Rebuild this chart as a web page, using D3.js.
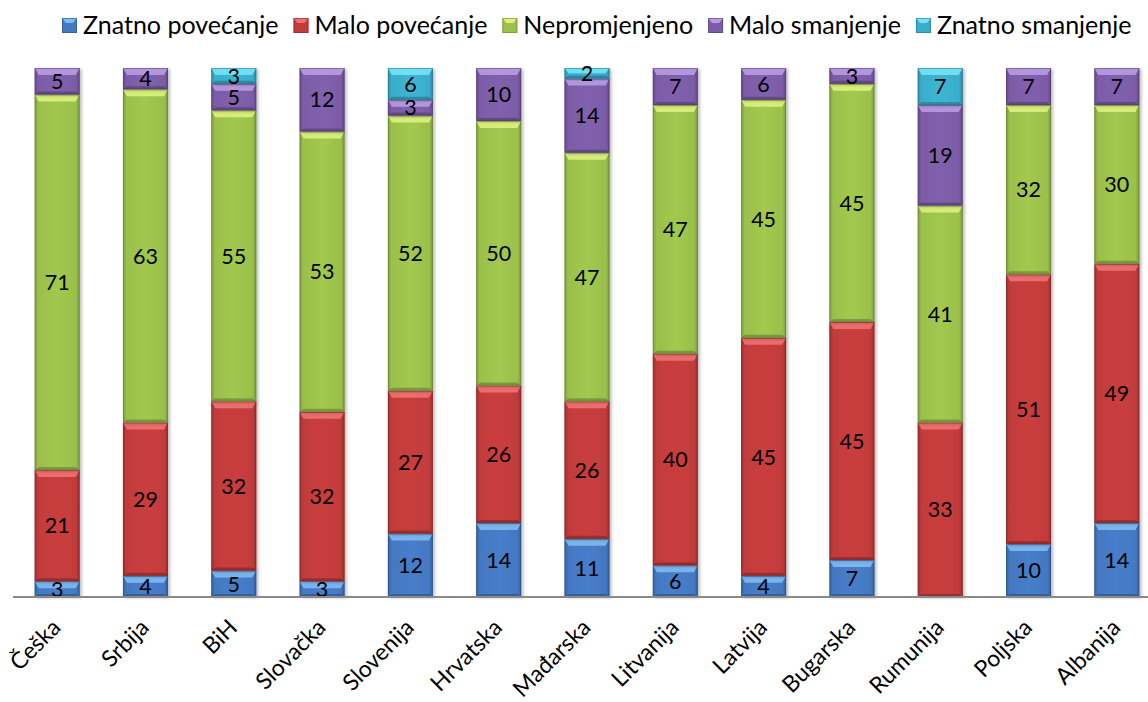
<!DOCTYPE html>
<html>
<head>
<meta charset="utf-8">
<script src="https://cdn.jsdelivr.net/npm/d3@7"></script>
<style>
  html, body { margin: 0; padding: 0; background: #fff; }
  svg { display: block; font-family: Lato, "Open Sans", sans-serif; }
</style>
</head>
<body>
<svg id="chart" width="1148" height="702"></svg>
<script>
const categories = ["Češka","Srbija","BiH","Slovačka","Slovenija","Hrvatska","Mađarska","Litvanija","Latvija","Bugarska","Rumunija","Poljska","Albanija"];
const seriesNames = ["Znatno povećanje","Malo povećanje","Nepromjenjeno","Malo smanjenje","Znatno smanjenje"];
const znatnoPovecanje = [3,4,5,3,12,14,11,6,4,7,0,10,14];
const maloPovecanje   = [21,29,32,32,27,26,26,40,45,45,33,51,49];
const nepromjenjeno   = [71,63,55,53,52,50,47,47,45,45,41,32,30];
const maloSmanjenje   = [5,4,5,12,3,10,14,7,6,3,19,7,7];
const znatnoSmanjenje = [0,0,3,0,6,0,2,0,0,0,7,0,0];
const seriesValues = [znatnoPovecanje, maloPovecanje, nepromjenjeno, maloSmanjenje, znatnoSmanjenje];
const colors = ["#4478c2","#c23b3b","#9bc04b","#7c5ca6","#3aadcb"];
const lightColors = ["#7fbaf2","#ee7272","#dcf27e","#b89ce2","#76e2f6"];

const svg = d3.select("#chart");

const rows = categories.map((c, i) => {
  const r = { cat: c };
  seriesNames.forEach((s, k) => r[s] = seriesValues[k][i]);
  return r;
});
const stacked = d3.stack().keys(seriesNames)(rows);

const x = d3.scaleBand().domain(categories).range([13, 1161]).paddingInner(0.49).paddingOuter(0.245);
const y = d3.scaleLinear().domain([0, 100]).range([597, 68]);

// gradients
const defs = svg.append("defs");
seriesNames.forEach((s, k) => {
  const g = defs.append("linearGradient").attr("id", "g" + k).attr("x1", 0).attr("x2", 1).attr("y1", 0).attr("y2", 0);
  const base = d3.color(colors[k]);
  g.append("stop").attr("offset", "0%").attr("stop-color", base.darker(0.6));
  g.append("stop").attr("offset", "8%").attr("stop-color", base);
  g.append("stop").attr("offset", "50%").attr("stop-color", base.brighter(0.12));
  g.append("stop").attr("offset", "92%").attr("stop-color", base);
  g.append("stop").attr("offset", "100%").attr("stop-color", base.darker(0.7));
});
const shadow = defs.append("filter").attr("id", "sh").attr("x", "-20%").attr("y", "-20%").attr("width", "140%").attr("height", "140%");
shadow.append("feDropShadow").attr("dx", 2).attr("dy", 1).attr("stdDeviation", 1.5).attr("flood-color", "#000").attr("flood-opacity", 0.25);

// bars
const layer = svg.append("g");
stacked.forEach((ser, k) => {
  const g = layer.append("g");
  ser.forEach((d, i) => {
    const v = d[1] - d[0];
    if (v <= 0) return;
    const x0 = x(categories[i]), w = x.bandwidth();
    const yt = y(d[1]), yb = y(d[0]), h = yb - yt;
    const seg = g.append("g").attr("filter", "url(#sh)");
    seg.append("rect").attr("x", x0).attr("y", yt).attr("width", w).attr("height", h).attr("fill", `url(#g${k})`);
    const dt = Math.min(7, h / 2), ds = 4, db = Math.min(3, h / 3);
    seg.append("polygon")
      .attr("points", [[x0, yt], [x0 + w, yt], [x0 + w - ds, yt + dt], [x0 + ds, yt + dt]].join(" "))
      .attr("fill", lightColors[k]).attr("opacity", 0.9);
    seg.append("polygon")
      .attr("points", [[x0, yb], [x0 + w, yb], [x0 + w - ds, yb - db], [x0 + ds, yb - db]].join(" "))
      .attr("fill", d3.color(colors[k]).darker(1)).attr("opacity", 0.7);
    seg.append("rect").attr("x", x0 + 0.5).attr("y", yt + 0.5).attr("width", w - 1).attr("height", Math.max(0, h - 1))
      .attr("fill", "none").attr("stroke", d3.color(colors[k]).darker(1.2)).attr("stroke-opacity", 0.5).attr("stroke-width", 1);
  });
});

// data labels
stacked.forEach((ser, k) => {
  ser.forEach((d, i) => {
    const v = d[1] - d[0];
    if (v <= 0) return;
    svg.append("text")
      .attr("x", x(categories[i]) + x.bandwidth() / 2)
      .attr("y", (y(d[0]) + y(d[1])) / 2)
      .attr("text-anchor", "middle")
      .attr("dy", "0.36em")
      .attr("font-size", 21.5)
      .attr("fill", "#000")
      .text(v);
  });
});

// x axis
const axis = svg.append("g").attr("transform", "translate(0,597)")
  .call(d3.axisBottom(x).tickSize(0).tickFormat(""));
axis.select(".domain").attr("stroke", "#8a8a8a").attr("stroke-width", 2).attr("d", "M13,0H1148");

svg.append("g").selectAll("text").data(categories).join("text")
  .attr("transform", d => `translate(${x(d) + x.bandwidth() / 2 + 5},629) rotate(-45)`)
  .attr("text-anchor", "end")
  .attr("font-size", 23)
  .attr("fill", "#000")
  .text(d => d);

// legend
const leg = svg.append("g");
let lx = 62;
seriesNames.forEach((s, k) => {
  const it = leg.append("g");
  const base = d3.color(colors[k]);
  it.append("rect").attr("x", lx).attr("y", 18).attr("width", 15).attr("height", 15).attr("fill", base);
  it.append("polygon").attr("points", [[lx, 18], [lx + 15, 18], [lx + 11, 23], [lx + 4, 23]].join(" ")).attr("fill", lightColors[k]);
  it.append("rect").attr("x", lx + 0.5).attr("y", 18.5).attr("width", 14).attr("height", 14).attr("fill", "none").attr("stroke", base.darker(1)).attr("stroke-opacity", 0.6);
  const t = it.append("text").attr("x", lx + 21).attr("y", 34).attr("font-size", 25).attr("fill", "#000").text(s);
  lx += 21 + t.node().getComputedTextLength() + 15;
});
</script>
</body>
</html>
